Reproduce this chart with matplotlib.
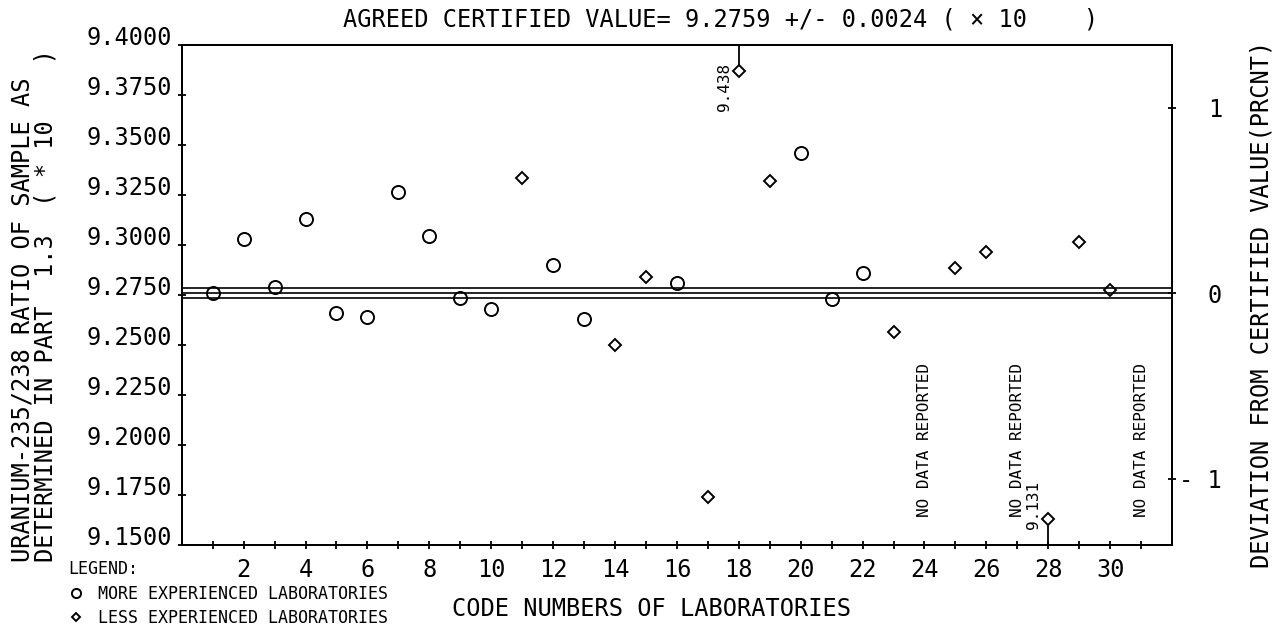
import numpy as np
import matplotlib
matplotlib.use('Agg')
import matplotlib.pyplot as plt

# certified value and its uncertainty
CERT = 9.2759
UNC = 0.0024

# more experienced laboratories (circles)
labs_more = [1, 2, 3, 4, 5, 6, 7, 8, 9, 10, 12, 13, 16, 20, 21, 22]
vals_more = [9.2760, 9.3028, 9.2792, 9.3130, 9.2662, 9.2638, 9.3267, 9.3045,
             9.2733, 9.2682, 9.2900, 9.2628, 9.2810, 9.3458, 9.2728, 9.2858]

# less experienced laboratories (diamonds)
labs_less = [11, 14, 15, 17, 18, 19, 23, 25, 26, 28, 29, 30]
vals_less = [9.3333, 9.2500, 9.2842, 9.1738, 9.438, 9.3322, 9.2563, 9.2883,
             9.2963, 9.131, 9.3013, 9.2775]

labs_nodata = [24, 27, 31]

y_ticks = np.arange(9.15, 9.4001, 0.025)
x_major = np.arange(2, 31, 2)
x_minor = np.arange(1, 32, 2)
pct_ticks = [-1, 0, 1]
pct_labels = ['- 1', '0', '1']

plt.rcParams['font.family'] = 'DejaVu Sans Mono'
plt.rcParams['font.size'] = 17

fig = plt.figure(figsize=(12.78, 6.3), dpi=100)
ax = fig.add_axes([0.1422, 0.1349, 0.7749, 0.7937])
ylo, yhi = 9.15, 9.40
ax.set_xlim(0, 32)
ax.set_ylim(ylo, yhi)

# certified value band
for v in (CERT - UNC, CERT, CERT + UNC):
    ax.axhline(v, color='black', lw=1.2, zorder=1)

# off-scale values get pinned near the frame
pin = 0.013
vals_less = np.array(vals_less)
shown_less = np.clip(vals_less, ylo + pin, yhi - pin)

h_more, = ax.plot(labs_more, vals_more, ls='none', marker='o', ms=9.4,
                  mfc='none', mec='black', mew=1.4, zorder=3,
                  label='MORE EXPERIENCED LABORATORIES')
h_less, = ax.plot(labs_less, shown_less, ls='none', marker='D', ms=6.5,
                  mfc='none', mec='black', mew=1.4, zorder=3,
                  label='LESS EXPERIENCED LABORATORIES')

for x, v, s in zip(labs_less, vals_less, shown_less):
    if v == s:
        continue
    if v > yhi:
        ax.plot([x, x], [s + 0.0037, yhi], color='black', lw=1.3, clip_on=False)
        ax.text(x - 0.45, s + 0.004, f'{v:.3f}', rotation=90,
                rotation_mode='anchor', ha='right', va='center', fontsize=11.5)
    else:
        ax.plot([x, x], [ylo, s - 0.0037], color='black', lw=1.3, clip_on=False)
        ax.text(x - 0.47, s - 0.005, f'{v:.3f}', rotation=90,
                rotation_mode='anchor', ha='left', va='center', fontsize=11.5)

for x in labs_nodata:
    ax.text(x, 9.164, 'NO DATA REPORTED', rotation=90, rotation_mode='anchor',
            ha='left', va='center', fontsize=11.5)

# axes / ticks
ax.set_yticks(y_ticks)
ax.set_yticklabels([f'{t:.4f}' for t in y_ticks])
for lbl in ax.get_yticklabels():
    lbl.set_va('baseline')
ax.set_xticks(x_major)
ax.set_xticks(x_minor, minor=True)
ax.tick_params(which='both', direction='inout', length=6, width=1.3,
               top=False, right=False)
ax.tick_params(axis='y', pad=4.3)
ax.tick_params(axis='x', pad=6.5)
for sp in ax.spines.values():
    sp.set_linewidth(1.4)

ax2 = ax.twinx()
ax2.set_ylim((ylo / CERT - 1) * 100, (yhi / CERT - 1) * 100)
ax2.set_yticks(pct_ticks)
ax2.set_yticklabels(pct_labels)
ax2.tick_params(direction='inout', length=6, width=1.3, pad=33)
for lbl in ax2.get_yticklabels():
    lbl.set_ha('right')
for sp in ax2.spines.values():
    sp.set_linewidth(1.4)

ax.set_xlabel('CODE NUMBERS OF LABORATORIES')
ax.xaxis.set_label_coords(0.474, -0.104)

fig.text(343 / 1278, 1 - 19 / 630,
         f'AGREED CERTIFIED VALUE= {CERT:.4f} +/- {UNC:.4f} ( \u00d7 10    )',
         ha='left', va='center')

# two-line left label, rotated (anchor on the baseline of the second line)
fig.text(53 / 1278, 1 - 562 / 630,
         'URANIUM-235/238 RATIO OF SAMPLE AS\nDETERMINED IN PART  1.3  ( * 10    )',
         rotation=90, rotation_mode='anchor', ha='left', va='baseline',
         multialignment='left', linespacing=1.0)
fig.text(1261 / 1278, 1 - 568 / 630, 'DEVIATION FROM CERTIFIED VALUE(PRCNT)',
         rotation=90, rotation_mode='anchor', ha='left', va='center')

fig.legend(handles=[h_more, h_less], loc='upper left',
           bbox_to_anchor=(68 / 1278, 1 - 560 / 630), frameon=False,
           title='LEGEND:', alignment='left', fontsize=12, title_fontsize=12,
           markerscale=0.7, handlelength=1.0, handletextpad=0.8,
           borderpad=0, borderaxespad=0, labelspacing=0.4, numpoints=1)

fig.savefig('out.png', dpi=100)
